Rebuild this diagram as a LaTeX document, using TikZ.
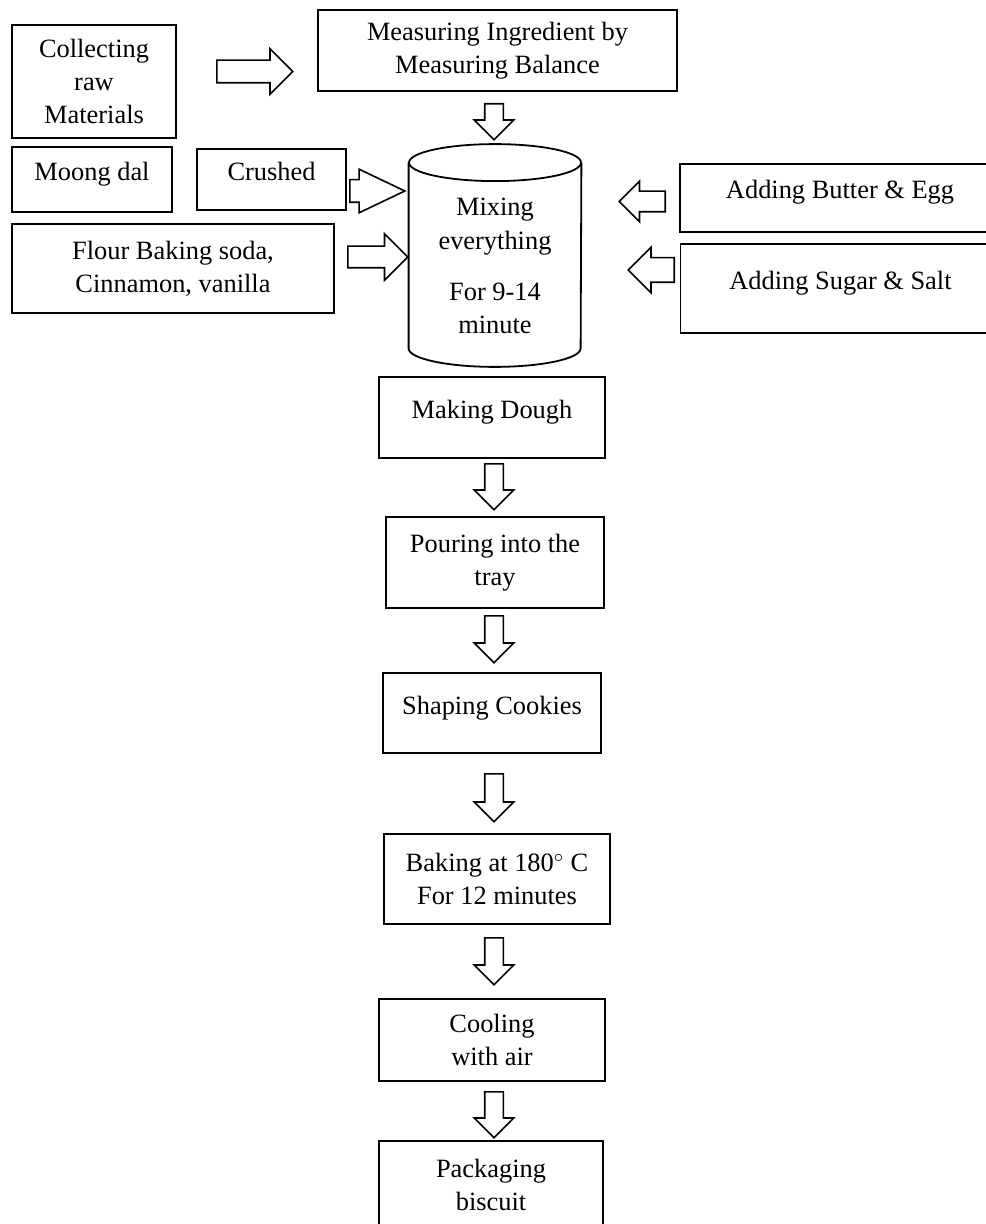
\documentclass[tikz,border=0pt]{standalone}
\usepackage{fontspec}
\setmainfont{Liberation Serif}
\usetikzlibrary{shapes.arrows}

\tikzset{
  stepbox/.style={draw, line width=0.9pt, align=center, inner sep=2pt},
  hightext/.style={text height=9pt, text depth=8pt},
  hollow/.style={single arrow, draw, line width=0.8pt, fill=white, inner xsep=0pt,
    single arrow head indent=0pt, anchor=tail},
  downarrow/.style={hollow, rotate=-90, inner ysep=4.25pt, single arrow head extend=5.25pt},
  leftarrow/.style={hollow, rotate=180, minimum height=23pt},
  vessel/.style={line width=0.9pt}
}

\begin{document}
\begin{tikzpicture}[x=0.5pt, y=-0.5pt, font=\fontsize{13.2}{16.4}\selectfont]
    \useasboundingbox (0,0) rectangle (985,1224);

    % raw material side
    \node[stepbox, minimum width=82pt, minimum height=56.5pt] (collect) at (94,81.5) {Collecting\\raw\\Materials};
    \node[stepbox, minimum width=179.5pt, minimum height=40.5pt] (measure) at (497.5,50.5) {Measuring Ingredient by\\Measuring Balance};
    \node[stepbox, hightext, minimum width=80pt, minimum height=32.5pt] (moong) at (92,179.5) {Moong dal};
    \node[stepbox, hightext, minimum width=74.5pt, minimum height=30.5pt] (crushed) at (271.5,179.5) {Crushed};
    \node[stepbox, minimum width=161pt, minimum height=44.5pt] (flour) at (173,268.5) {Flour Baking soda,\\Cinnamon, vanilla};
    \node[stepbox, hightext, minimum width=160pt, minimum height=34pt] (butter) at (840,198) {Adding Butter \& Egg};
    \node[stepbox, hightext, minimum width=160pt, minimum height=44.5pt] (sugar) at (840.5,288.5) {Adding Sugar \& Salt};

    % mixing vessel
    \node[minimum width=86pt, minimum height=92.5pt, inner sep=0pt] (mix) at (495,255.5) {};
    \draw[vessel] (mix.north) ellipse [x radius=43pt, y radius=9.25pt];
    \draw[vessel] (mix.north west) -- (mix.south west)
        arc [start angle=180, end angle=360, x radius=43pt, y radius=9.25pt] -- (mix.north east);
    \node[align=center] (mixtext) at (495,266) {Mixing\\[0.6pt]everything\\[9pt]For 9-14\\minute};

    % main line
    \node[stepbox, hightext, minimum width=113pt, minimum height=40.5pt] (dough) at (492,417.5) {Making Dough};
    \node[stepbox, minimum width=109pt, minimum height=45.5pt] (pour) at (495,562.5) {Pouring into the\\tray};
    \node[stepbox, hightext, minimum width=109pt, minimum height=40pt] (shape) at (492,713) {Shaping Cookies};
    \node[stepbox, minimum width=113pt, minimum height=45pt] (bake) at (497,879) {Baking at 180$^{\circ}$ C\\For 12 minutes};
    \node[stepbox, minimum width=113pt, minimum height=41pt] (cool) at (492,1040) {Cooling\\with air};
    \node[stepbox, minimum width=112pt, minimum height=44pt] (pack) at (491,1185) {Packaging\\biscuit};

    % block arrows (placed at their tails)
    \node[hollow, minimum height=38pt, inner ysep=5.25pt, single arrow head extend=5.75pt] (a0) at (216,71.5) {};
    \node[downarrow, minimum height=18pt] (d0) at (494,103) {};
    \node[hollow, minimum height=27.5pt, inner ysep=5.25pt, single arrow head extend=5.25pt,
        single arrow tip angle=51] (a1) at (349,191) {};
    \node[hollow, minimum height=30pt, inner ysep=5pt, single arrow head extend=6.25pt] (a2) at (347,257) {};
    \node[leftarrow, inner ysep=4.75pt, single arrow head extend=5pt] (a3) at (666,201.5) {};
    \node[leftarrow, inner ysep=5.75pt, single arrow head extend=5.25pt] (a4) at (675,270) {};

    \node[downarrow, minimum height=23pt] (d1) at (494,463) {};
    \node[downarrow, minimum height=23.5pt] (d2) at (494,615) {};
    \node[downarrow, minimum height=24pt] (d3) at (494,773) {};
    \node[downarrow, minimum height=23.5pt] (d4) at (494,937) {};
    \node[downarrow, minimum height=23pt] (d5) at (494,1091) {};
\end{tikzpicture}
\end{document}
